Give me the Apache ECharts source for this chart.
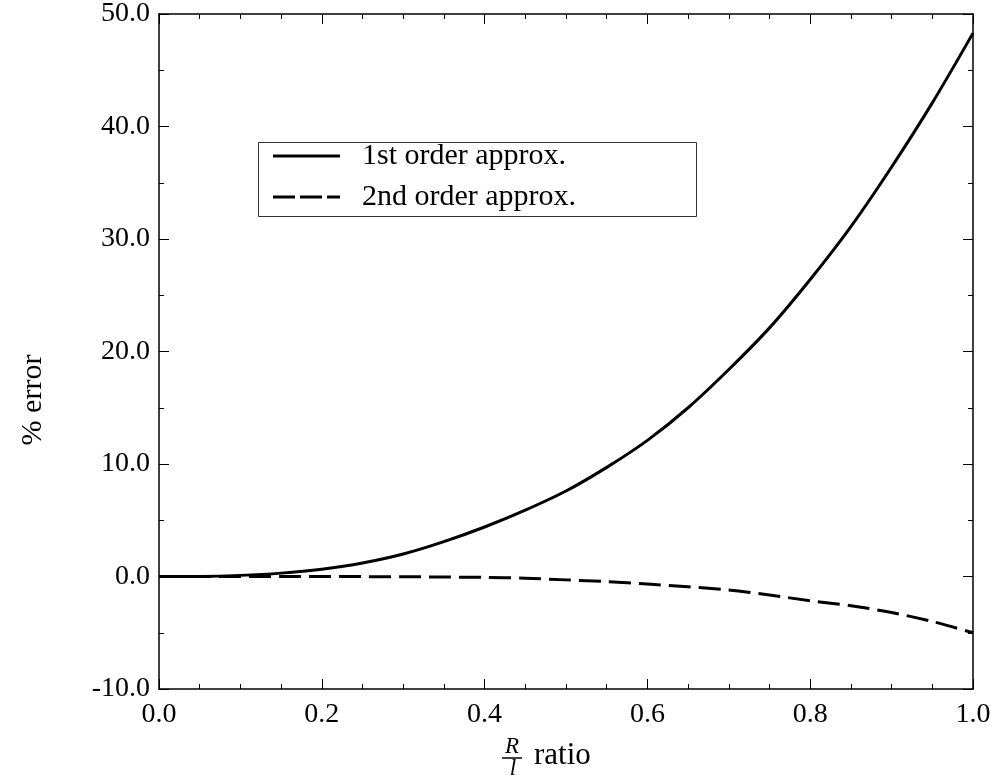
<!DOCTYPE html>
<html>
<head>
<meta charset="utf-8">
<script src="https://cdn.jsdelivr.net/npm/echarts@6/dist/echarts.min.js"></script>
<style>
  html, body { margin: 0; padding: 0; background: #fff; }
  #chart { width: 997px; height: 780px; }
</style>
</head>
<body>
<div id="chart"></div>
<script>
// R/l ratio
const ratio = [0, 0.05, 0.1, 0.15, 0.2, 0.25, 0.3, 0.35, 0.4, 0.45, 0.5,
  0.55, 0.6, 0.65, 0.7, 0.75, 0.8, 0.85, 0.9, 0.95, 1.0];
// % error
const firstOrder = [0, 0.01, 0.1, 0.3, 0.65, 1.2, 2.0, 3.1, 4.4, 5.9, 7.6,
  9.7, 12.1, 15.0, 18.4, 22.1, 26.4, 31.1, 36.4, 42.1, 48.3];
const secondOrder = [0, 0, 0, 0, 0, -0.01, -0.02, -0.05, -0.08, -0.15, -0.3,
  -0.45, -0.67, -0.92, -1.2, -1.65, -2.15, -2.6, -3.2, -4.0, -5.0];
const seriesNames = ["1st order approx.", "2nd order approx."];

const font = "Liberation Serif";
const dash = [22, 8];
const pairs = (ys) => ratio.map((x, i) => [x, ys[i]]);

const axisLine = { show: true, onZero: false, lineStyle: { color: "#000", width: 1.5 } };
const tick = { show: true, inside: true, length: 10, lineStyle: { color: "#000", width: 1 } };
const minor = (n) => ({ show: true, splitNumber: n, length: 5, lineStyle: { color: "#000", width: 1 } });

// legend drawn by hand: frame, line sample, label
const legendRow = (i, y) => [
  {
    type: "line", z: 10,
    shape: { x1: 273, y1: y, x2: 340, y2: y },
    style: { stroke: "#000", lineWidth: 3, lineDash: i === 0 ? null : [22, 5] }
  },
  {
    type: "text", x: 362, y: y, z: 10,
    style: {
      text: seriesNames[i], fontFamily: font, fontSize: 30, fill: "#000",
      align: "left", verticalAlign: "middle"
    }
  }
];

const chart = echarts.init(document.getElementById("chart"));
chart.setOption({
  animation: false,
  backgroundColor: "#fff",
  grid: { left: 159, right: 24, top: 13, bottom: 91, containLabel: false },
  xAxis: [
    {
      type: "value", position: "bottom", min: 0, max: 1, interval: 0.2,
      axisLine, axisTick: tick, minorTick: minor(4), splitLine: { show: false },
      axisLabel: {
        margin: 12, color: "#000", fontFamily: font, fontSize: 28,
        formatter: (v) => v.toFixed(1)
      }
    },
    {
      type: "value", position: "top", min: 0, max: 1, interval: 0.2,
      axisLine, axisTick: tick, minorTick: minor(4), splitLine: { show: false },
      axisLabel: { show: false }
    }
  ],
  yAxis: [
    {
      type: "value", position: "left", min: -10, max: 50, interval: 10,
      axisLine, axisTick: tick, minorTick: minor(2), splitLine: { show: false },
      axisLabel: {
        margin: 9, color: "#000", fontFamily: font, fontSize: 28,
        formatter: (v) => v.toFixed(1)
      }
    },
    {
      type: "value", position: "right", min: -10, max: 50, interval: 10,
      axisLine, axisTick: tick, minorTick: minor(2), splitLine: { show: false },
      axisLabel: { show: false }
    }
  ],
  series: [
    {
      name: seriesNames[0], type: "line", data: pairs(firstOrder),
      smooth: 0.3, symbol: "none",
      lineStyle: { color: "#000", width: 3, type: "solid" }
    },
    {
      name: seriesNames[1], type: "line", data: pairs(secondOrder),
      smooth: 0.3, symbol: "none",
      lineStyle: { color: "#000", width: 3, type: dash }
    }
  ],
  graphic: [
    {
      type: "rect", left: 258, top: 142, z: 9,
      shape: { width: 438, height: 74 },
      style: { fill: "#fff", stroke: "#333", lineWidth: 1 }
    },
    ...legendRow(0, 156),
    ...legendRow(1, 197),
    // y axis title
    {
      type: "text", x: 33, y: 400, rotation: Math.PI / 2,
      style: {
        text: "% error", fontFamily: font, fontSize: 30, fill: "#000",
        align: "center", verticalAlign: "middle"
      }
    },
    // x axis title: R/l ratio
    {
      type: "text", x: 512, y: 747,
      style: {
        text: "R", fontFamily: font, fontStyle: "italic", fontSize: 23, fill: "#000",
        align: "center", verticalAlign: "middle"
      }
    },
    {
      type: "line",
      shape: { x1: 502, y1: 758, x2: 522, y2: 758 },
      style: { stroke: "#000", lineWidth: 1.5 }
    },
    {
      type: "text", x: 513, y: 769,
      style: {
        text: "l", fontFamily: font, fontStyle: "italic", fontSize: 23, fill: "#000",
        align: "center", verticalAlign: "middle"
      }
    },
    {
      type: "text", x: 534, y: 756,
      style: {
        text: "ratio", fontFamily: font, fontSize: 31, fill: "#000",
        align: "left", verticalAlign: "middle"
      }
    }
  ]
});
</script>
</body>
</html>
